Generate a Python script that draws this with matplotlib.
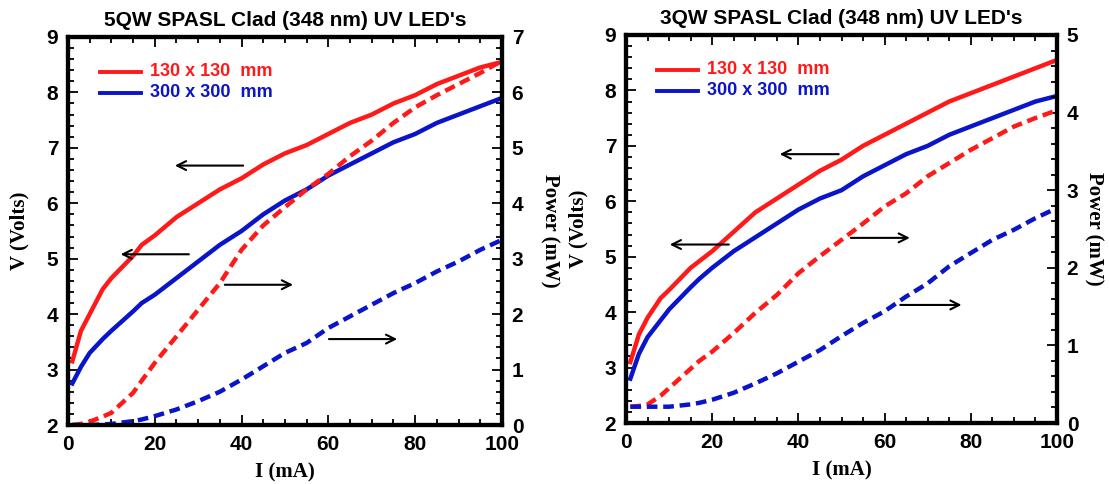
import matplotlib.pyplot as plt
from matplotlib.ticker import MultipleLocator

# current sample points (mA)
current = [1, 3, 5, 8, 10, 15, 17, 20, 25, 30, 35, 40, 45, 50, 55, 60, 65, 70, 75, 80, 85, 90, 95, 100]

# 5QW device
v5_small = [3.15, 3.7, 4.0, 4.45, 4.65, 5.05, 5.25, 5.42, 5.75, 6.0, 6.25, 6.45, 6.7, 6.9,
            7.05, 7.25, 7.45, 7.6, 7.8, 7.95, 8.15, 8.3, 8.45, 8.55]
v5_large = [2.75, 3.05, 3.3, 3.55, 3.7, 4.05, 4.2, 4.35, 4.65, 4.95, 5.25, 5.5, 5.8, 6.05,
            6.25, 6.5, 6.7, 6.9, 7.1, 7.25, 7.45, 7.6, 7.75, 7.9]
p5_small = [0.0, 0.02, 0.06, 0.15, 0.22, 0.58, 0.8, 1.12, 1.6, 2.08, 2.56, 3.16, 3.6, 3.93,
            4.25, 4.53, 4.85, 5.13, 5.45, 5.73, 5.95, 6.15, 6.35, 6.57]
p5_large = [0.0, 0.0, 0.0, 0.01, 0.02, 0.07, 0.1, 0.16, 0.28, 0.43, 0.6, 0.82, 1.06, 1.3,
            1.48, 1.75, 1.96, 2.17, 2.38, 2.56, 2.77, 2.95, 3.16, 3.34]

# 3QW device
v3_small = [3.1, 3.6, 3.9, 4.25, 4.4, 4.8, 4.92, 5.1, 5.45, 5.8, 6.05, 6.3, 6.55, 6.75,
            7.0, 7.2, 7.4, 7.6, 7.8, 7.95, 8.1, 8.25, 8.4, 8.55]
v3_large = [2.8, 3.25, 3.55, 3.85, 4.05, 4.45, 4.6, 4.8, 5.1, 5.35, 5.6, 5.85, 6.05, 6.2,
            6.45, 6.65, 6.85, 7.0, 7.2, 7.35, 7.5, 7.65, 7.8, 7.9]
p3_small = [0.21, 0.22, 0.24, 0.35, 0.45, 0.7, 0.8, 0.92, 1.16, 1.42, 1.65, 1.93, 2.15, 2.36,
            2.57, 2.79, 2.96, 3.18, 3.35, 3.52, 3.67, 3.82, 3.93, 4.03]
p3_large = [0.21, 0.21, 0.21, 0.21, 0.21, 0.24, 0.26, 0.3, 0.39, 0.51, 0.64, 0.79, 0.94, 1.12,
            1.29, 1.44, 1.63, 1.8, 2.02, 2.19, 2.36, 2.49, 2.64, 2.77]

labels = ["130 x 130  mm", "300 x 300  mm"]
titles = ["5QW SPASL Clad (348 nm) UV LED's", "3QW SPASL Clad (348 nm) UV LED's"]

# arrows as (x_tail, x_head, V level)
arrows5 = [(41, 24, 6.68), (28.5, 11.5, 5.08), (35.5, 52.5, 4.53), (59.5, 76.5, 3.55)]
arrows3 = [(50, 35, 6.85), (24.5, 9.5, 5.22), (51.5, 66.5, 5.34), (63, 78.5, 4.13)]

RED = "#ff1a1a"
BLUE = "#0a14c8"
DASH = (0, (2.4, 1.3))
tickfont = dict(family="Liberation Sans", weight="bold", size=15)
labelfont = dict(family="Liberation Serif", weight="bold", size=15)

fig = plt.figure(figsize=(11.09, 4.84), dpi=100)


def draw_panel(rect, title, v_small, v_large, p_small, p_large, pmax, arrows, ppad):
    ax = fig.add_axes(rect)
    ax2 = ax.twinx()

    ax.plot(current, v_small, color=RED, lw=3.2)
    ax.plot(current, v_large, color=BLUE, lw=3.2)
    ax2.plot(current, p_small, color=RED, lw=3.2, ls=DASH)
    ax2.plot(current, p_large, color=BLUE, lw=3.2, ls=DASH)

    ax.set_xlim(0, 100)
    ax.set_ylim(2, 9)
    ax2.set_ylim(0, pmax)

    ax.xaxis.set_major_locator(MultipleLocator(20))
    ax.xaxis.set_minor_locator(MultipleLocator(5))
    ax.yaxis.set_major_locator(MultipleLocator(1))
    ax.yaxis.set_minor_locator(MultipleLocator(0.2))
    ax2.yaxis.set_major_locator(MultipleLocator(1))
    ax2.yaxis.set_minor_locator(MultipleLocator(0.2))

    ax.tick_params(which="both", direction="in", top=True, right=False, width=1.3)
    ax.tick_params(which="major", length=7, pad=7)
    ax.tick_params(which="minor", length=4)
    ax2.tick_params(which="both", direction="in", width=1.3)
    ax2.tick_params(which="major", length=7, pad=7)
    ax2.tick_params(which="minor", length=4)

    for a in (ax, ax2):
        for lab in a.get_xticklabels() + a.get_yticklabels():
            lab.set_fontproperties(tickfont)
        for s in a.spines.values():
            s.set_linewidth(3)

    ax.set_xlabel("I (mA)", fontdict=labelfont, labelpad=6)
    ax.set_ylabel("V (Volts)", fontdict=labelfont, labelpad=12)
    ax2.set_ylabel("Power (mW)", fontdict=labelfont, rotation=270, labelpad=ppad)
    ax.set_title(title, fontdict=dict(family="Liberation Sans", weight="bold", size=15), pad=8)

    # legend drawn as line samples with coloured text
    for y, col, lab in [(8.37, RED, labels[0]), (7.99, BLUE, labels[1])]:
        ax.plot([7.3, 16.8], [y, y], color=col, lw=2.8)
        ax.text(18.8, y, lab, color=col, fontsize=13, weight="bold",
                family="Liberation Sans", va="center")

    for x0, x1, y in arrows:
        ax.annotate("", xy=(x1, y), xytext=(x0, y),
                    arrowprops=dict(arrowstyle="->", color="black", lw=1.5,
                                    mutation_scale=16))
    return ax


draw_panel([0.0613, 0.1219, 0.3913, 0.8017], titles[0],
           v5_small, v5_large, p5_small, p5_large, 7, arrows5, 26)
draw_panel([0.5645, 0.126, 0.3886, 0.8017], titles[1],
           v3_small, v3_large, p3_small, p3_large, 5, arrows3, 18)

fig.savefig("out.png", dpi=100)
